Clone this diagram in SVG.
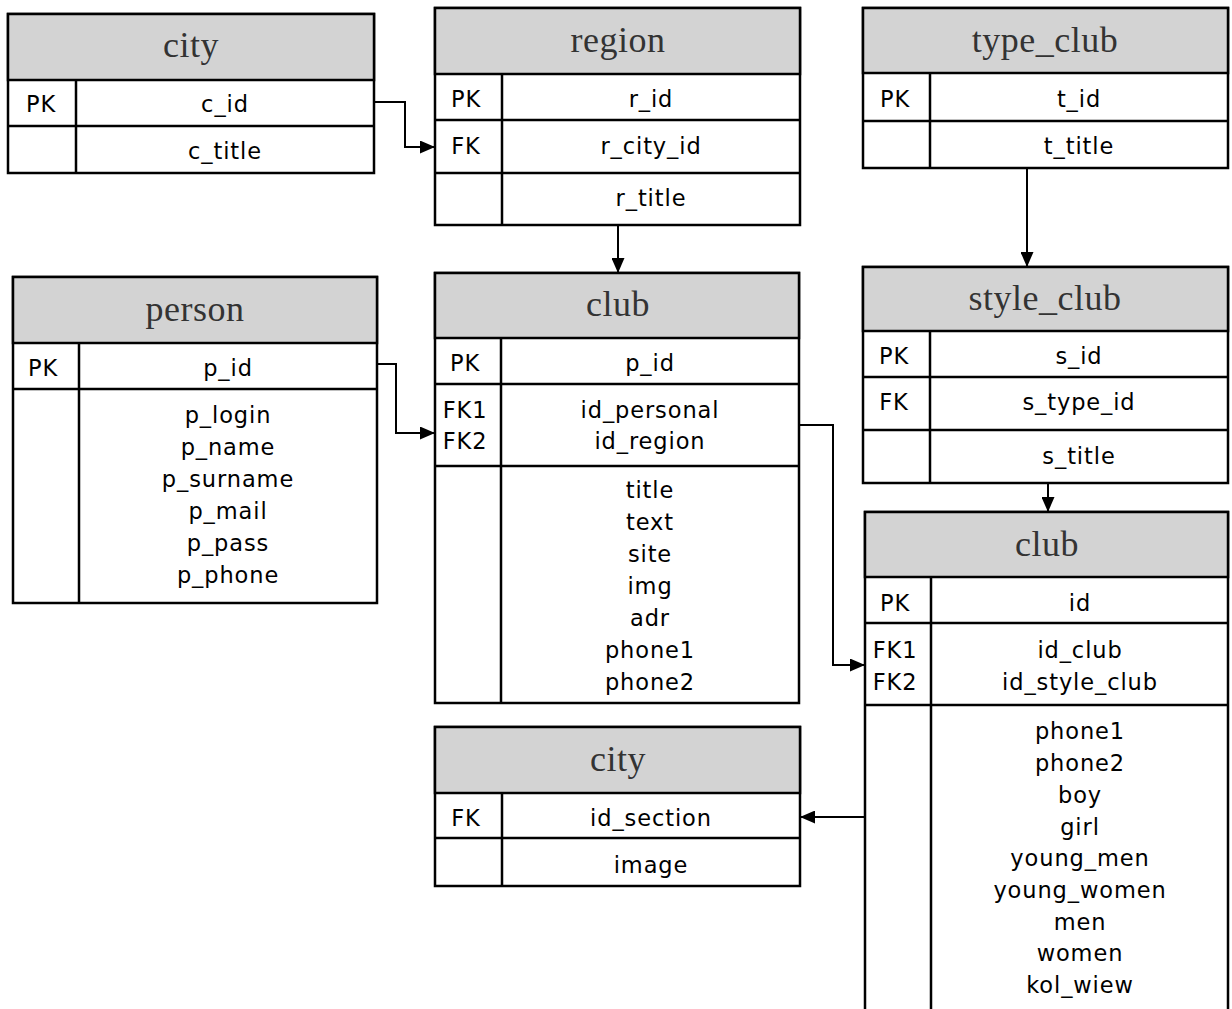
<svg xmlns="http://www.w3.org/2000/svg" width="1232" height="1009" viewBox="0 0 1232 1009">
<style>
.hdr{fill:#d3d3d3;stroke:#000;stroke-width:2.5}
.box{fill:#fff;stroke:#000;stroke-width:2.5}
.ln{fill:none;stroke:#000;stroke-width:2.5}
.t{font-family:"Liberation Serif","Times New Roman",serif;font-size:36px;letter-spacing:0.5px;fill:#333;text-anchor:middle}
.f{font-family:"DejaVu Sans",Verdana,sans-serif;font-size:22.5px;letter-spacing:0.9px;fill:#000;text-anchor:middle}
.c{fill:none;stroke:#000;stroke-width:2}
</style>
<defs>
<marker id="ah" markerUnits="userSpaceOnUse" markerWidth="16" markerHeight="13" refX="15" refY="6.5" orient="auto">
<path d="M0,0 L15,6.5 L0,13 z" fill="#000"/>
</marker>
</defs>

<g id="city1">
<rect class="box" x="8" y="14" width="366" height="159"/>
<rect class="hdr" x="8" y="14" width="366" height="66"/>
<path class="ln" d="M8,126 H374 M76,80 V173"/>
<text class="t" x="191" y="57">city</text>
<text class="f" x="41" y="112">PK</text>
<text class="f" x="225" y="112">c_id</text>
<text class="f" x="225" y="159">c_title</text>
</g>

<g id="region">
<rect class="box" x="435" y="8" width="365" height="217"/>
<rect class="hdr" x="435" y="8" width="365" height="66"/>
<path class="ln" d="M435,120 H800 M435,173 H800 M502,74 V225"/>
<text class="t" x="618" y="52">region</text>
<text class="f" x="466" y="107">PK</text>
<text class="f" x="466" y="154">FK</text>
<text class="f" x="651" y="107">r_id</text>
<text class="f" x="651" y="154">r_city_id</text>
<text class="f" x="651" y="206">r_title</text>
</g>

<g id="type_club">
<rect class="box" x="863" y="8" width="365" height="160"/>
<rect class="hdr" x="863" y="8" width="365" height="65"/>
<path class="ln" d="M863,121 H1228 M930,73 V168"/>
<text class="t" x="1045" y="52">type_club</text>
<text class="f" x="895" y="107">PK</text>
<text class="f" x="1079" y="107">t_id</text>
<text class="f" x="1079" y="154">t_title</text>
</g>

<g id="person">
<rect class="box" x="13" y="277" width="364" height="326"/>
<rect class="hdr" x="13" y="277" width="364" height="66"/>
<path class="ln" d="M13,389 H377 M79,343 V603"/>
<text class="t" x="195" y="321">person</text>
<text class="f" x="43" y="376">PK</text>
<text class="f" x="228" y="376">p_id</text>
<text class="f" x="228" y="423">p_login</text>
<text class="f" x="228" y="455">p_name</text>
<text class="f" x="228" y="487">p_surname</text>
<text class="f" x="228" y="519">p_mail</text>
<text class="f" x="228" y="551">p_pass</text>
<text class="f" x="228" y="583">p_phone</text>
</g>

<g id="club1">
<rect class="box" x="435" y="273" width="364" height="430"/>
<rect class="hdr" x="435" y="273" width="364" height="65"/>
<path class="ln" d="M435,384 H799 M435,466 H799 M501,338 V703"/>
<text class="t" x="618" y="316">club</text>
<text class="f" x="465" y="371">PK</text>
<text class="f" x="650" y="371">p_id</text>
<text class="f" x="465" y="418">FK1</text>
<text class="f" x="465" y="449">FK2</text>
<text class="f" x="650" y="418">id_personal</text>
<text class="f" x="650" y="449">id_region</text>
<text class="f" x="650" y="498">title</text>
<text class="f" x="650" y="530">text</text>
<text class="f" x="650" y="562">site</text>
<text class="f" x="650" y="594">img</text>
<text class="f" x="650" y="626">adr</text>
<text class="f" x="650" y="658">phone1</text>
<text class="f" x="650" y="690">phone2</text>
</g>

<g id="style_club">
<rect class="box" x="863" y="267" width="365" height="216"/>
<rect class="hdr" x="863" y="267" width="365" height="64"/>
<path class="ln" d="M863,377 H1228 M863,430 H1228 M930,331 V483"/>
<text class="t" x="1045" y="310">style_club</text>
<text class="f" x="894" y="364">PK</text>
<text class="f" x="894" y="410">FK</text>
<text class="f" x="1079" y="364">s_id</text>
<text class="f" x="1079" y="410">s_type_id</text>
<text class="f" x="1079" y="464">s_title</text>
</g>

<g id="club2">
<rect class="box" x="865" y="512" width="363" height="510"/>
<rect class="hdr" x="865" y="512" width="363" height="65"/>
<path class="ln" d="M865,623 H1228 M865,705 H1228 M931,577 V1022"/>
<text class="t" x="1047" y="556">club</text>
<text class="f" x="895" y="611">PK</text>
<text class="f" x="1080" y="611">id</text>
<text class="f" x="895" y="658">FK1</text>
<text class="f" x="895" y="690">FK2</text>
<text class="f" x="1080" y="658">id_club</text>
<text class="f" x="1080" y="690">id_style_club</text>
<text class="f" x="1080" y="739">phone1</text>
<text class="f" x="1080" y="771">phone2</text>
<text class="f" x="1080" y="803">boy</text>
<text class="f" x="1080" y="835">girl</text>
<text class="f" x="1080" y="866">young_men</text>
<text class="f" x="1080" y="898">young_women</text>
<text class="f" x="1080" y="930">men</text>
<text class="f" x="1080" y="961">women</text>
<text class="f" x="1080" y="993">kol_wiew</text>
</g>

<g id="city2">
<rect class="box" x="435" y="727" width="365" height="159"/>
<rect class="hdr" x="435" y="727" width="365" height="66"/>
<path class="ln" d="M435,838 H800 M502,793 V886"/>
<text class="t" x="618" y="771">city</text>
<text class="f" x="466" y="826">FK</text>
<text class="f" x="651" y="826">id_section</text>
<text class="f" x="651" y="873">image</text>
</g>

<g id="connectors">
<path class="c" marker-end="url(#ah)" d="M374,102 H405 V147 H435"/>
<path class="c" marker-end="url(#ah)" d="M618,225 V273"/>
<path class="c" marker-end="url(#ah)" d="M1027,168 V267"/>
<path class="c" marker-end="url(#ah)" d="M1048,483 V512"/>
<path class="c" marker-end="url(#ah)" d="M377,364 H396 V433 H435"/>
<path class="c" marker-end="url(#ah)" d="M799,425 H833 V665 H865"/>
<path class="c" marker-end="url(#ah)" d="M865,817 H800"/>
</g>
</svg>
